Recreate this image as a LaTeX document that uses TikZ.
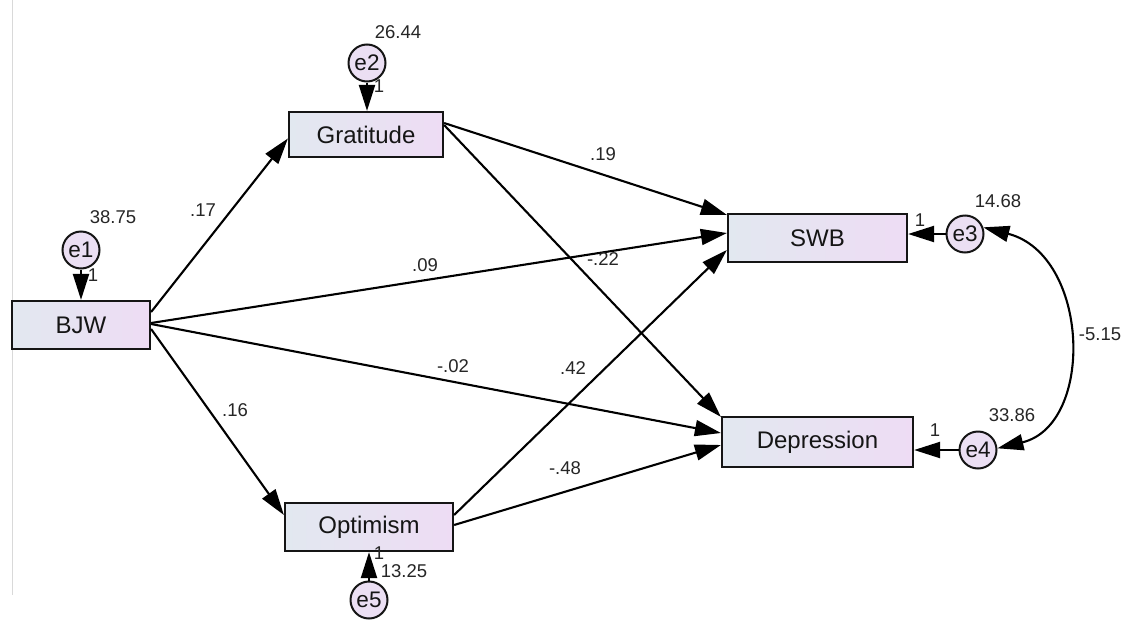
\documentclass[tikz,border=0pt]{standalone}
\usepackage{fontspec}
\setmainfont{Liberation Sans}
\usetikzlibrary{arrows.meta}
\definecolor{boxL}{HTML}{E2E8F0}
\definecolor{boxR}{HTML}{EEDCF4}
\definecolor{circ}{HTML}{EBDFF3}
\definecolor{ink}{HTML}{151515}
\definecolor{numc}{HTML}{262626}
\begin{document}
\begin{tikzpicture}[x=1pt,y=-1pt,
  varbox/.style={draw=ink, line width=2.2pt, left color=boxL, right color=boxR,
    font=\fontsize{24}{26}\selectfont, text=ink, inner sep=0pt},
  errc/.style={circle, draw=ink, line width=2pt, fill=circ, minimum size=37pt,
    inner sep=0pt, font=\fontsize{22.5}{24}\selectfont, text=ink},
  num/.style={font=\fontsize{18.5}{20}\selectfont, text=numc, inner sep=0pt},
  arr/.style={-{Triangle[length=26pt,width=16pt]}, line width=2.1pt, draw=black},
  covarr/.style={{Triangle[length=26pt,width=16pt]}-{Triangle[length=26pt,width=16pt]}, line width=2.1pt, draw=black}]
\useasboundingbox (0,0) rectangle (1123,621);
\fill[white] (0,0) rectangle (1123,621);
\draw[gray!30, line width=1pt] (12,0) -- (12,595);

% observed variables
\node[varbox, minimum width=138pt, minimum height=48pt] (BJW) at (81,325) {BJW};
\node[varbox, minimum width=154pt, minimum height=45pt] (Grat) at (366,134.5) {Gratitude};
\node[varbox, minimum width=168pt, minimum height=48pt] (Opt) at (369,527) {Optimism};
\node[varbox, minimum width=179pt, minimum height=48pt] (SWB) at (817.5,238) {SWB};
\node[varbox, minimum width=191pt, minimum height=50pt] (Dep) at (817.5,442) {Depression};

% error terms
\node[errc] (e1) at (81,250) {e1};
\node[errc] (e2) at (367,63) {e2};
\node[errc] (e3) at (965,234) {e3};
\node[errc] (e4) at (978,450) {e4};
\node[errc] (e5) at (369,600) {e5};

% structural paths
\draw[arr] ([yshift=13pt]BJW.east) -- ([yshift=-4pt]Grat.west);
\draw[arr] ([yshift=-4pt]BJW.east) -- ([yshift=12pt]Opt.west);
\draw[arr] ([yshift=2pt]BJW.east) -- ([yshift=5pt]SWB.west);
\draw[arr] ([yshift=1pt]BJW.east) -- ([yshift=9pt]Dep.west);
\draw[arr] ([yshift=11.5pt]Grat.east) -- ([yshift=-2pt]SWB.north west);
\draw[arr] ([yshift=9.5pt]Grat.east) -- ([yshift=-1pt]Dep.north west);
\draw[arr] ([yshift=12pt]Opt.east) -- ([yshift=-12pt]SWB.west);
\draw[arr] ([yshift=2pt]Opt.east) -- ([yshift=-3pt]Dep.west);

% error paths
\draw[arr] (e1.south) -- (e1.south |- BJW.north);
\draw[arr] (e2.south) -- (e2.south |- Grat.north);
\draw[arr] (e3.west) -- (e3.west -| SWB.east);
\draw[arr] (e4.west) -- (e4.west -| Dep.east);
\draw[arr] (e5.north) -- (e5.north |- Opt.south);

% covariance
\draw[covarr] (e3.20) .. controls (1090,255) and (1095,425) .. (e4.5);

% labels
\node[num] (v1) at (113,217) {38.75};
\node[num] (w1) at (93,275) {1};
\node[num] (v2) at (398,32) {26.44};
\node[num] (w2) at (379,86) {1};
\node[num] (v3) at (998,201) {14.68};
\node[num] (w3) at (920,220) {1};
\node[num] (v4) at (1012,415) {33.86};
\node[num] (w4) at (935,430) {1};
\node[num] (w5) at (379,553) {1};
\node[num] (v5) at (404,571) {13.25};
\node[num] (cv) at (1100,334) {-5.15};
\node[num] (p1) at (203,210) {.17};
\node[num] (p2) at (235,410) {.16};
\node[num] (p3) at (603,154) {.19};
\node[num] (p4) at (425,265) {.09};
\node[num] (p5) at (603,259) {-.22};
\node[num] (p6) at (453,366) {-.02};
\node[num] (p7) at (573,368) {.42};
\node[num] (p8) at (565,468) {-.48};
\end{tikzpicture}
\end{document}
